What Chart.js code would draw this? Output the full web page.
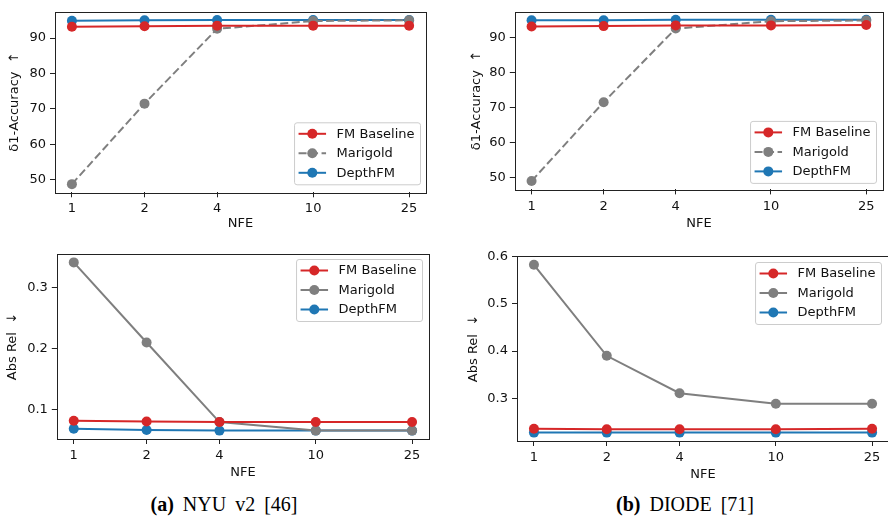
<!DOCTYPE html>
<html>
<head>
<meta charset="utf-8">
<script src="https://cdn.jsdelivr.net/npm/chart.js@4"></script>
<style>
  html, body { margin: 0; padding: 0; background: #fff; }
  #wrap { position: relative; width: 888px; height: 517px; overflow: hidden; }
  canvas { position: absolute; }
  .caption {
    position: absolute; top: 493px; transform: translateX(-50%);
    font-family: "Liberation Serif", serif; font-size: 20px; color: #000;
    white-space: nowrap; word-spacing: 4px;
  }
  .caption b { font-weight: bold; }
</style>
</head>
<body>
<div id="wrap">
  <canvas id="nyuAcc" width="444" height="240" style="left:0;top:0"></canvas>
  <canvas id="diodeAcc" width="444" height="240" style="left:444px;top:0"></canvas>
  <canvas id="nyuRel" width="444" height="245" style="left:0;top:240px"></canvas>
  <canvas id="diodeRel" width="450" height="245" style="left:444px;top:240px"></canvas>
  <div class="caption" style="left:224px"><b>(a)</b> NYU v2 [46]</div>
  <div class="caption" style="left:685px"><b>(b)</b> DIODE [71]</div>
</div>
<script>
// x values (number of function evaluations)
const nfe = [1, 2, 4, 10, 25];
const seriesNames = ['FM Baseline', 'Marigold', 'DepthFM'];

// NYU v2, delta1 accuracy
const nyuAccFM = [93.2, 93.3, 93.5, 93.5, 93.5];
const nyuAccMarigold = [48.8, 71.5, 92.6, 94.8, 95.0];
const nyuAccDepthFM = [94.9, 95.0, 95.1, 95.1, 95.1];

// DIODE, delta1 accuracy
const diodeAccFM = [93.2, 93.3, 93.5, 93.5, 93.6];
const diodeAccMarigold = [48.9, 71.5, 92.6, 94.7, 94.9];
const diodeAccDepthFM = [95.0, 95.0, 95.1, 95.1, 95.1];

// NYU v2, abs rel
const nyuRelFM = [0.082, 0.081, 0.080, 0.080, 0.080];
const nyuRelMarigold = [0.341, 0.210, 0.080, 0.066, 0.066];
const nyuRelDepthFM = [0.069, 0.067, 0.066, 0.066, 0.066];

// DIODE, abs rel
const diodeRelFM = [0.236, 0.235, 0.235, 0.235, 0.236];
const diodeRelMarigold = [0.582, 0.390, 0.311, 0.289, 0.289];
const diodeRelDepthFM = [0.228, 0.228, 0.228, 0.228, 0.228];

// tick labels
const xTicks = [1, 2, 4, 10, 25];
const accTicks = [50, 60, 70, 80, 90];
const nyuRelTicks = [0.1, 0.2, 0.3];
const diodeRelTicks = [0.3, 0.4, 0.5, 0.6];

const COLORS = ['#d62728', '#7f7f7f', '#1f77b4'];
const FONT = '"DejaVu Sans", sans-serif';
const INK = '#111';

Chart.defaults.font.family = FONT;
Chart.defaults.font.size = 13;
Chart.defaults.color = INK;

// frame round the plot area (matplotlib spines)
const frame = {
  id: 'frame',
  afterDatasetsDraw(chart) {
    const { ctx, chartArea: a } = chart;
    ctx.save();
    ctx.strokeStyle = '#222';
    ctx.lineWidth = 1;
    ctx.strokeRect(Math.round(a.left) + 0.5, Math.round(a.top) + 0.5,
      Math.round(a.right - a.left), Math.round(a.bottom - a.top));
    ctx.restore();
  }
};

// boxed legend inside the axes
const boxLegend = {
  id: 'boxLegend',
  afterDraw(chart, args, opts) {
    const { ctx, chartArea: a } = chart;
    const items = chart.data.datasets;
    ctx.save();
    ctx.font = '13px ' + FONT;
    const textW = Math.max(...items.map(d => ctx.measureText(d.label).width));
    const w = 4.5 + 27.5 + 10.5 + textW + 5.5;
    const h = 62;
    const x = a.right - opts.dx - w;
    const y = opts.corner === 'top' ? a.top + opts.dy : a.bottom - opts.dy - h;
    ctx.beginPath();
    if (ctx.roundRect) ctx.roundRect(x + 0.5, y + 0.5, w, h, 2.5);
    else ctx.rect(x + 0.5, y + 0.5, w, h);
    ctx.fillStyle = 'rgba(255,255,255,0.8)';
    ctx.fill();
    ctx.strokeStyle = '#cccccc';
    ctx.lineWidth = 1;
    ctx.stroke();
    items.forEach((d, i) => {
      const cy = y + 11.5 + i * 19.5;
      const x0 = x + 4.5, x1 = x0 + 27.5;
      ctx.strokeStyle = d.borderColor;
      ctx.lineWidth = d.borderWidth;
      ctx.setLineDash(d.borderDash || []);
      ctx.beginPath();
      ctx.moveTo(x0, cy);
      ctx.lineTo(x1, cy);
      ctx.stroke();
      ctx.setLineDash([]);
      ctx.fillStyle = d.backgroundColor;
      ctx.beginPath();
      ctx.arc((x0 + x1) / 2, cy, d.pointRadius, 0, Math.PI * 2);
      ctx.fill();
      ctx.fillStyle = INK;
      ctx.textBaseline = 'middle';
      ctx.textAlign = 'left';
      ctx.fillText(d.label, x1 + 10.5, cy + 0.5);
    });
    ctx.restore();
  }
};

function makeDatasets(values, dashedMarigold) {
  return values.map((vals, i) => ({
    label: seriesNames[i],
    data: vals.map((v, j) => ({ x: nfe[j], y: v })),
    borderColor: COLORS[i],
    backgroundColor: COLORS[i],
    borderWidth: 2,
    borderDash: (dashedMarigold && i === 1) ? [8, 3.5] : [],
    pointRadius: 5,
    pointHoverRadius: 5,
    pointBorderWidth: 0,
    tension: 0
  }));
}

function makeChart(id, cfg) {
  const canvas = document.getElementById(id);
  const W = canvas.width, H = canvas.height;
  const a = cfg.area;
  return new Chart(canvas, {
    type: 'line',
    data: { datasets: makeDatasets(cfg.values, cfg.dashed) },
    options: {
      responsive: false,
      animation: false,
      events: [],
      layout: { padding: { left: 0, top: a.top, right: W - a.right, bottom: 0 } },
      plugins: {
        legend: { display: false },
        tooltip: { enabled: false },
        boxLegend: cfg.legend
      },
      scales: {
        x: {
          type: 'logarithmic',
          min: 0.851,
          max: 29.37,
          afterBuildTicks: s => { s.ticks = xTicks.map(v => ({ value: v })); },
          afterFit: s => { s.height = H - a.bottom; },
          ticks: { callback: v => String(v), color: INK, padding: 4, maxRotation: 0, autoSkip: false },
          grid: { drawOnChartArea: false, drawTicks: true, tickLength: 5, color: '#222' },
          border: { display: false },
          title: { display: true, text: 'NFE', color: INK, padding: { top: 0, bottom: cfg.xTitlePad } }
        },
        y: {
          min: cfg.yMin,
          max: cfg.yMax,
          afterBuildTicks: s => { s.ticks = cfg.yTicks.map(v => ({ value: v })); },
          afterFit: s => { s.width = a.left; },
          ticks: { callback: v => String(v), color: INK, padding: 4 },
          grid: { drawOnChartArea: false, drawTicks: true, tickLength: 5, color: '#222' },
          border: { display: false },
          title: { display: true, text: cfg.yTitle, color: INK, padding: { top: cfg.yTitlePad, bottom: 0 } }
        }
      }
    },
    plugins: [frame, boxLegend]
  });
}

makeChart('nyuAcc', {
  values: [nyuAccFM, nyuAccMarigold, nyuAccDepthFM],
  dashed: true,
  area: { left: 55, right: 426, top: 6.7, bottom: 192.3 },
  yMin: 46.5, yMax: 97.4, yTicks: accTicks,
  yTitle: 'δ1-Accuracy  ↑', yTitlePad: 7, xTitlePad: 9,
  legend: { corner: 'bottom', dx: 6, dy: 8 }
});

makeChart('diodeAcc', {
  values: [diodeAccFM, diodeAccMarigold, diodeAccDepthFM],
  dashed: true,
  area: { left: 70.8, right: 443, top: 4.4, bottom: 189.4 },
  yMin: 46.5, yMax: 97.4, yTicks: accTicks,
  yTitle: 'δ1-Accuracy  ↑', yTitlePad: 25, xTitlePad: 9,
  legend: { corner: 'bottom', dx: 7, dy: 6.5 }
});

makeChart('nyuRel', {
  values: [nyuRelFM, nyuRelMarigold, nyuRelDepthFM],
  dashed: false,
  area: { left: 56.8, right: 429, top: 14, bottom: 199 },
  yMin: 0.0523, yMax: 0.3547, yTicks: nyuRelTicks,
  yTitle: 'Abs Rel  ↓', yTitlePad: 5, xTitlePad: 5,
  legend: { corner: 'top', dx: 7, dy: 5 }
});

makeChart('diodeRel', {
  values: [diodeRelFM, diodeRelMarigold, diodeRelDepthFM],
  dashed: false,
  area: { left: 73, right: 446, top: 16, bottom: 201 },
  yMin: 0.2103, yMax: 0.6005, yTicks: diodeRelTicks,
  yTitle: 'Abs Rel  ↓', yTitlePad: 22, xTitlePad: 2.5,
  legend: { corner: 'top', dx: 8, dy: 6 }
});
</script>
</body>
</html>
